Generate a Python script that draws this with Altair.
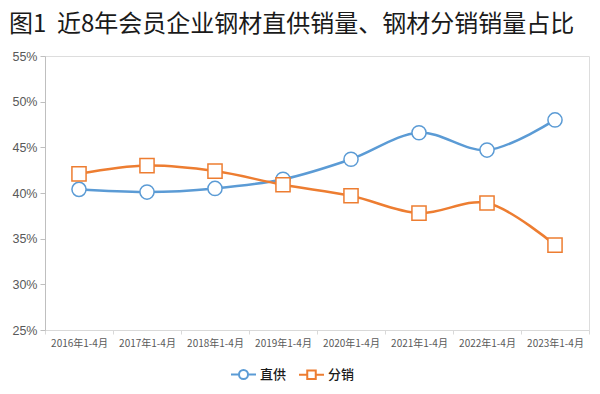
import altair as alt
import pandas as pd

periods = ["2016年1-4月", "2017年1-4月", "2018年1-4月", "2019年1-4月",
           "2020年1-4月", "2021年1-4月", "2022年1-4月", "2023年1-4月"]
direct_supply = [40.4, 40.1, 40.5, 41.5, 43.7, 46.6, 44.7, 48.0]
distribution = [42.1, 43.0, 42.4, 40.9, 39.7, 37.8, 38.9, 34.3]
series_names = ["直供", "分销"]
series_colors = ["#5b9bd5", "#ed7d31"]
y_ticks = [25, 30, 35, 40, 45, 50, 55]
title_text = "图1\u00a0\u00a0近8年会员企业钢材直供销量、钢材分销销量占比"

rows = []
for name, vals in zip(series_names, [direct_supply, distribution]):
    for p, v in zip(periods, vals):
        rows.append({"period": p, "value": v, "series": name})
df = pd.DataFrame(rows)

FONT = "Noto Sans CJK SC"

x_enc = alt.X(
    "period:N", sort=periods,
    scale=alt.Scale(type="band", paddingInner=0, paddingOuter=0),
    axis=alt.Axis(title=None, labelAngle=0, tickBand="extent", labelFont=FONT,
                  labelFontSize=10, labelColor="#595959", domainColor="#d9d9d9",
                  tickColor="#d9d9d9", tickSize=4, labelPadding=4, grid=False),
)
y_enc = alt.Y(
    "value:Q",
    scale=alt.Scale(domain=[25, 55], nice=False, zero=False),
    axis=alt.Axis(title=None, values=y_ticks, labelExpr="datum.value + '%'",
                  labelFont="Liberation Sans", labelFontSize=12.5, labelColor="#595959",
                  domainColor="#bfbfbf", tickColor="#bfbfbf", tickSize=5,
                  labelPadding=3, grid=False),
)
color_scale = alt.Scale(domain=series_names, range=series_colors)

circle_path = ("M-1,0L-0.36,0M0.36,0L1,0M0.36,0A0.36,0.36,0,1,1,-0.36,0"
               "A0.36,0.36,0,1,1,0.36,0Z")
square_path = ("M-1,0L-0.34,0M0.34,0L1,0M-0.34,-0.34L0.34,-0.34L0.34,0.34"
               "L-0.34,0.34Z")


def make_legend():
    return alt.Legend(
        title=None, orient="none", direction="horizontal",
        legendX=185, legendY=305, symbolSize=625, symbolStrokeWidth=2,
        symbolFillColor="white",
        labelFont=FONT, labelFontSize=13, labelFontWeight=500,
        labelColor="#1a1a1a", columnPadding=8, labelOffset=3,
    )


base = alt.Chart(df)

lines = base.mark_line(interpolate="catmull-rom", strokeWidth=2.5).encode(
    x=x_enc, y=y_enc,
    color=alt.Color("series:N", scale=color_scale, legend=None),
)

circles = base.transform_filter(alt.datum.series == series_names[0]).mark_point(
    shape="circle", size=200, fill="white", filled=False, opacity=1, strokeWidth=1.5
).encode(x=x_enc, y=y_enc, color=alt.Color("series:N", scale=color_scale, legend=None))

squares = base.transform_filter(alt.datum.series == series_names[1]).mark_point(
    shape="square", size=200, fill="white", filled=False, opacity=1, strokeWidth=1.5
).encode(x=x_enc, y=y_enc, color=alt.Color("series:N", scale=color_scale, legend=None))

legend_layer = base.transform_filter("false").mark_point(
    fill="white", filled=False, opacity=1, strokeWidth=2
).encode(
    x=x_enc, y=y_enc,
    color=alt.Color("series:N", scale=color_scale, legend=make_legend()),
    shape=alt.Shape("series:N",
                    scale=alt.Scale(domain=series_names,
                                    range=[circle_path, square_path]),
                    legend=make_legend()),
)

chart = alt.layer(lines, circles, squares, legend_layer).resolve_legend(
    color="independent", shape="independent"
).properties(
    width=544, height=274,
    padding={"left": 37, "top": 48, "right": 3, "bottom": 56},
    autosize=alt.AutoSizeParams(type="none"),
    title=alt.TitleParams(title_text, anchor="start", dx=-3, font=FONT,
                          fontSize=24, fontWeight="normal", color="#1a1a1a",
                          offset=13),
).configure_view(stroke=None).configure(background="white")

chart.save("out.html", embed_options={"renderer": "svg", "actions": False})
